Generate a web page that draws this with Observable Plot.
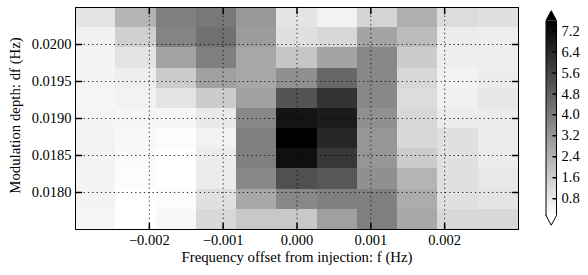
<!DOCTYPE html>
<html><head><meta charset="utf-8">
<script src="https://cdn.jsdelivr.net/npm/d3@7"></script>
<script src="https://cdn.jsdelivr.net/npm/@observablehq/plot@0.6"></script>
<style>
html,body{margin:0;padding:0;background:#fff;}
#chart{position:relative;width:588px;height:275px;overflow:hidden;}
#chart svg{position:absolute;left:0;top:0;}
</style></head><body><div id="chart"></div>
<script>
// Column centres: frequency offset from injection (Hz)
const freqOffset = [-0.0027273, -0.0021818, -0.0016364, -0.0010909, -0.0005455, 0, 0.0005455, 0.0010909, 0.0016364, 0.0021818, 0.0027273];
// Row centres: modulation depth (Hz), top row first
const modDepth = [0.0203636, 0.0200909, 0.0198182, 0.0195455, 0.0192727, 0.0190000, 0.0187273, 0.0184545, 0.0181818, 0.0179091, 0.0176364];
// Cell values, one array per row (top row first), one entry per column
const row00 = [0.95, 2.35, 3.88, 4.11, 3.17, 0.95, 0.54, 1.42, 2.47, 1.18, 1.07];
const row01 = [0.60, 1.53, 3.76, 4.34, 3.06, 1.07, 1.30, 2.82, 2.12, 0.72, 0.66];
const row02 = [0.48, 0.95, 2.82, 3.88, 2.71, 1.83, 2.82, 3.64, 1.65, 0.66, 0.66];
const row03 = [0.48, 0.66, 1.65, 2.94, 2.71, 3.41, 4.58, 3.64, 1.30, 0.54, 0.72];
const row04 = [0.42, 0.54, 0.95, 1.65, 2.94, 5.16, 6.10, 3.64, 1.18, 0.60, 0.89];
const row05 = [0.48, 0.42, 0.42, 0.77, 3.64, 7.03, 6.80, 3.41, 1.30, 0.72, 0.72];
const row06 = [0.54, 0.36, 0.25, 0.54, 3.88, 7.75, 6.45, 3.23, 1.30, 1.07, 0.72];
const row07 = [0.54, 0.31, 0.12, 0.72, 3.88, 7.15, 5.98, 3.23, 1.65, 1.07, 0.72];
const row08 = [0.48, 0.25, 0.14, 0.72, 3.64, 5.28, 5.05, 3.41, 2.35, 1.07, 0.83];
const row09 = [0.48, 0.15, 0.25, 1.07, 2.71, 3.64, 3.88, 3.88, 2.59, 1.07, 0.95];
const row10 = [0.42, 0.13, 0.36, 1.30, 1.77, 1.77, 2.94, 3.88, 2.71, 1.30, 1.30];
const rows = [row00, row01, row02, row03, row04, row05, row06, row07, row08, row09, row10];

const xTicks = [-0.002, -0.001, 0, 0.001, 0.002];
const yTicks = [0.0180, 0.0185, 0.0190, 0.0195, 0.0200];
const cbarTicks = [0.8, 1.6, 2.4, 3.2, 4.0, 4.8, 5.6, 6.4, 7.2];
const colorMin = 0.16, colorMax = 7.6;
const xLabel = "Frequency offset from injection: f (Hz)";
const yLabel = "Modulation depth: df (Hz)";

const halfX = (freqOffset[1] - freqOffset[0]) / 2;
const halfY = (modDepth[0] - modDepth[1]) / 2;
const xMin = freqOffset[0] - halfX, xMax = freqOffset[freqOffset.length - 1] + halfX;
const yMax = modDepth[0] + halfY, yMin = modDepth[modDepth.length - 1] - halfY;

const cells = [];
rows.forEach((r, i) => r.forEach((v, j) => cells.push({
  x1: freqOffset[j] - halfX, x2: freqOffset[j] + halfX,
  y1: modDepth[i] - halfY, y2: modDepth[i] + halfY, v
})));

const colorScale = {type: "linear", domain: [colorMin, colorMax], range: ["#ffffff", "#000000"], interpolate: "rgb", clamp: true};
const font = "'Liberation Serif', 'DejaVu Serif', serif";
const tickShape = {draw(ctx, l) { ctx.moveTo(0, 0); ctx.lineTo(0, -l); }};
const dots = {stroke: "black", strokeWidth: 0.8, strokeDasharray: "1.3,3"};

const main = Plot.plot({
  width: 588, height: 275,
  marginLeft: 75, marginRight: 70, marginTop: 7, marginBottom: 46,
  style: {fontFamily: font, fontSize: "14.5px", color: "black", background: "transparent"},
  x: {domain: [xMin, xMax]},
  y: {domain: [yMin, yMax]},
  color: colorScale,
  marks: [
    Plot.rect(cells, {x1: "x1", x2: "x2", y1: "y1", y2: "y2", fill: "v", shapeRendering: "crispEdges"}),
    Plot.ruleX(xTicks, dots),
    Plot.ruleY(yTicks, dots),
    Plot.frame({stroke: "black", strokeWidth: 1}),
    Plot.vector(xTicks, {x: d => d, y: () => yMin, length: 6, rotate: 0, anchor: "start", shape: tickShape, stroke: "black"}),
    Plot.vector(xTicks, {x: d => d, y: () => yMax, length: 6, rotate: 180, anchor: "start", shape: tickShape, stroke: "black"}),
    Plot.vector(yTicks, {x: () => xMin, y: d => d, length: 6, rotate: 90, anchor: "start", shape: tickShape, stroke: "black"}),
    Plot.vector(yTicks, {x: () => xMax, y: d => d, length: 6, rotate: -90, anchor: "start", shape: tickShape, stroke: "black"}),
    Plot.axisX(xTicks, {anchor: "bottom", tickSize: 0, tickPadding: 5, tickFormat: d3.format(".3f"), label: null}),
    Plot.axisY(yTicks, {anchor: "left", tickSize: 0, tickPadding: 4, tickFormat: d3.format(".4f"), label: null}),
    Plot.text([xLabel], {text: d => d, frameAnchor: "bottom", dy: 27.5, textAnchor: "middle", lineAnchor: "middle", fontSize: 14.8}),
    Plot.text([yLabel], {text: d => d, frameAnchor: "left", dx: -60, dy: -3, rotate: -90, textAnchor: "middle", lineAnchor: "middle", fontSize: 14.8})
  ]
});

const ext = 0.05 * (colorMax - colorMin);
const topTri = [[0, colorMax], [0.5, colorMax + ext], [1, colorMax]];
const botTri = [[0, colorMin], [0.5, colorMin - ext], [1, colorMin]];
const outline = [[0, colorMin], [0, colorMax], [0.5, colorMax + ext], [1, colorMax], [1, colorMin], [0.5, colorMin - ext], [0, colorMin]];

const cbar = Plot.plot({
  width: 588, height: 275,
  marginLeft: 545.5, marginRight: 32, marginTop: 20, marginBottom: 60,
  style: {fontFamily: font, fontSize: "14.5px", color: "black", background: "transparent"},
  x: {domain: [0, 1], axis: null},
  y: {domain: [colorMin, colorMax], axis: null},
  color: colorScale,
  marks: [
    Plot.raster({x1: 0, x2: 1, y1: colorMin, y2: colorMax, width: 1, height: 400, fill: (x, y) => y}),
    Plot.line(topTri, {x: d => d[0], y: d => d[1], fill: "black", stroke: "none"}),
    Plot.line(botTri, {x: d => d[0], y: d => d[1], fill: "white", stroke: "none"}),
    Plot.line(outline, {x: d => d[0], y: d => d[1], stroke: "black", strokeWidth: 1}),
    Plot.vector(cbarTicks, {x: () => 1, y: d => d, length: 3.5, rotate: -90, anchor: "start", shape: tickShape, stroke: "black"}),
    Plot.text(cbarTicks, {x: () => 1, y: d => d, text: d => d3.format(".1f")(d), dx: 5, textAnchor: "start", lineAnchor: "middle"})
  ]
});

const chart = document.getElementById("chart");
chart.appendChild(main);
chart.appendChild(cbar);
</script></body></html>
